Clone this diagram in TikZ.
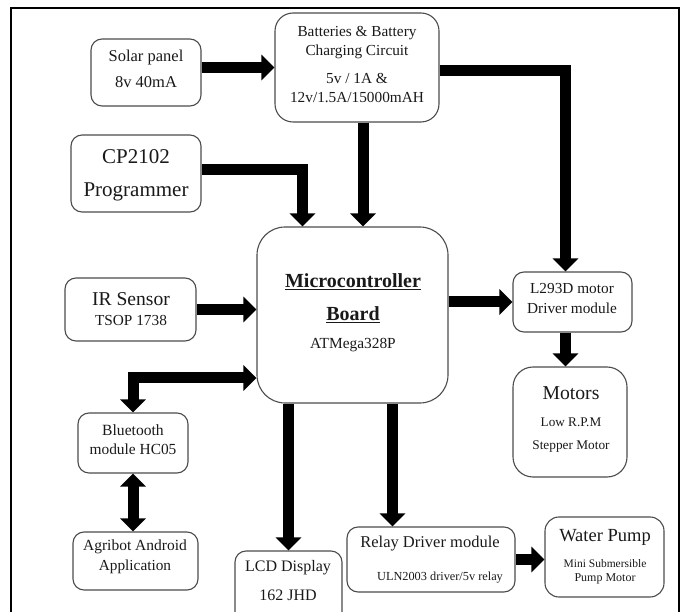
\documentclass[tikz,border=0pt]{standalone}
\usepackage{fontspec}
\setmainfont{Liberation Serif}
\usetikzlibrary{arrows.meta}
\newcommand\fsz[1]{\fontsize{#1}{#1}\selectfont}
\begin{document}
\begin{tikzpicture}[x=1pt,y=-1pt,
  box/.style={draw=black!70, line width=1.1pt, rounded corners=11pt, inner sep=0pt},
  txt/.style={inner sep=0pt, text=black!90},
  flow/.style={line width=11pt, -{Triangle[width=25pt,length=13pt]}, line join=miter},
  flow2/.style={line width=11pt, {Triangle[width=25pt,length=13pt]}-{Triangle[width=25pt,length=13pt]}, line join=miter}]
\useasboundingbox (0,0) rectangle (683,612);
\begin{scope}
\clip (0,0) rectangle (683,612);
\draw[line width=1.4pt] (11,8) rectangle (679,660);

% boxes
\node[box, minimum width=110pt, minimum height=67pt] (solar) at (146,72.5) {};
\node[box, minimum width=164pt, minimum height=109pt, rounded corners=18pt] (batt) at (357,67.5) {};
\node[box, minimum width=130pt, minimum height=77pt] (cp) at (136,173.5) {};
\node[box, minimum width=191pt, minimum height=176pt, rounded corners=28pt] (mcu) at (352.5,315) {};
\node[box, minimum width=131pt, minimum height=63pt] (ir) at (130.5,309.5) {};
\node[box, minimum width=119pt, minimum height=60pt] (l293) at (572.5,302) {};
\node[box, minimum width=114pt, minimum height=110pt, rounded corners=20pt] (motors) at (570,422) {};
\node[box, minimum width=110pt, minimum height=60pt] (bt) at (133,443) {};
\node[box, minimum width=125pt, minimum height=58pt] (app) at (135.5,561) {};
\node[box, minimum width=107pt, minimum height=89pt] (lcd) at (288.5,595.5) {};
\node[box, minimum width=168pt, minimum height=65pt] (relay) at (431,559.5) {};
\node[box, minimum width=119pt, minimum height=80pt, rounded corners=14pt] (pump) at (604.5,557) {};

% texts
\node[txt, font=\fsz{16.5}] (t1) at (146,58) {Solar panel};
\node[txt, font=\fsz{16.5}] (t2) at (146,82) {8v 40mA};
\node[txt, font=\fsz{15.3}] (t3) at (357,33) {Batteries \& Battery};
\node[txt, font=\fsz{15.3}] (t4) at (357,52) {Charging Circuit};
\node[txt, font=\fsz{15.3}] (t5) at (357,78) {5v / 1A \&};
\node[txt, font=\fsz{15.3}] (t6) at (357,98) {12v/1.5A/15000mAH};
\node[txt, font=\fsz{21}] (t7) at (136,157) {CP2102};
\node[txt, font=\fsz{21}] (t8) at (136,192) {Programmer};
\node[txt, font=\fsz{20}\bfseries] (t9) at (353,282) {\underline{Microcontroller}};
\node[txt, font=\fsz{20}\bfseries] (t10) at (353,315) {\underline{Board}};
\node[txt, font=\fsz{15.4}] (t11) at (353,345) {ATMega328P};
\node[txt, font=\fsz{19.6}] (t12) at (131,299) {IR Sensor};
\node[txt, font=\fsz{15.3}] (t13) at (131,320) {TSOP 1738};
\node[txt, font=\fsz{15.3}] (t14) at (572,289) {L293D motor};
\node[txt, font=\fsz{15.3}] (t15) at (572,308) {Driver module};
\node[txt, font=\fsz{19.7}] (t16) at (571,393) {Motors};
\node[txt, font=\fsz{13.2}] (t17) at (571,422) {Low R.P.M};
\node[txt, font=\fsz{13.3}] (t18) at (571,447) {Stepper Motor};
\node[txt, font=\fsz{15.6}] (t19) at (133,430) {Bluetooth};
\node[txt, font=\fsz{15.4}] (t20) at (133,449) {module HC05};
\node[txt, font=\fsz{15.5}] (t21) at (135,547) {Agribot Android};
\node[txt, font=\fsz{15.3}] (t22) at (135,567) {Application};
\node[txt, font=\fsz{16}] (t23) at (288,568) {LCD Display};
\node[txt, font=\fsz{16}] (t24) at (288,595) {162 JHD};
\node[txt, font=\fsz{16.5}] (t25) at (430,544) {Relay Driver module};
\node[txt, font=\fsz{12.3}] (t26) at (440,578) {ULN2003 driver/5v relay};
\node[txt, font=\fsz{18.5}] (t27) at (605,537) {Water Pump};
\node[txt, font=\fsz{11.5}] (t28) at (605,564) {Mini Submersible};
\node[txt, font=\fsz{12}] (t29) at (605,579) {Pump Motor};

% connectors
\draw[flow] (solar.east |- batt.west) -- (batt.west);
\draw[flow] ([yshift=-3pt]batt.east) -| ([xshift=-7pt]l293.north);
\draw[flow] ([xshift=6pt]batt.south) -- ([xshift=6pt]batt.south |- mcu.north);
\draw[flow] ([yshift=4pt]cp.east) -| ([xshift=-50pt]mcu.north);
\draw[flow] (ir.east) -- (ir.east -| mcu.west);
\draw[flow2] ([yshift=-63pt]mcu.west) -| (bt.north);
\draw[flow2] (bt.south) -- (bt.south |- app.north);
\draw[flow] (lcd.north |- mcu.south) -- (lcd.north);
\draw[flow] ([xshift=40pt]mcu.south) -- ([xshift=40pt]mcu.south |- relay.north);
\draw[flow] (relay.east) -- (relay.east -| pump.west);
\draw[flow] (mcu.east |- l293.west) -- (l293.west);
\draw[flow] ([xshift=-7pt]l293.south) -- ([xshift=-7pt]l293.south |- motors.north);
\end{scope}
\end{tikzpicture}
\end{document}
